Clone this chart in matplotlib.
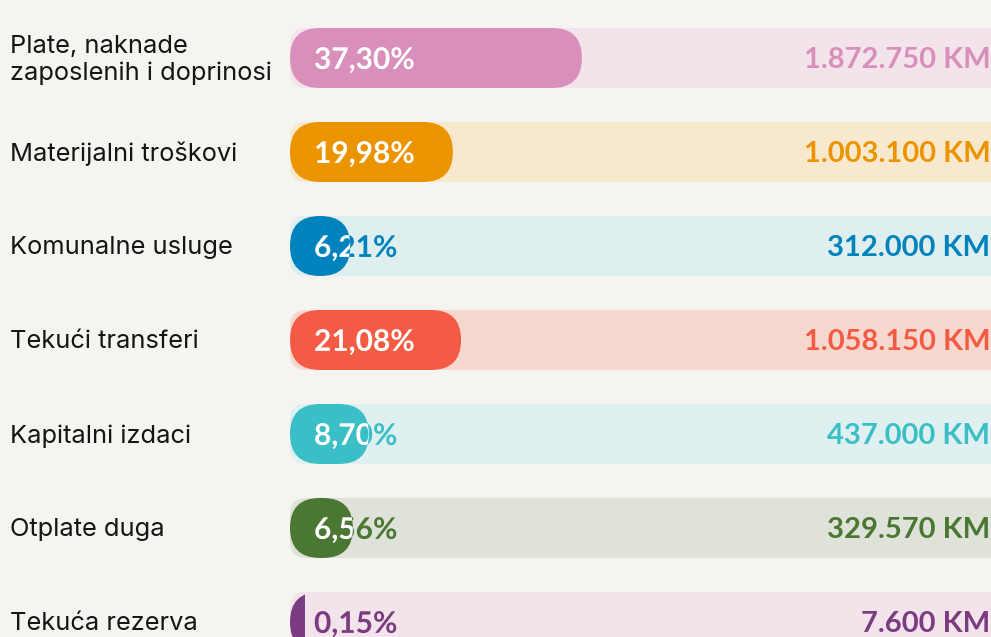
import matplotlib
matplotlib.use("Agg")
import matplotlib.pyplot as plt
import matplotlib.transforms as mtransforms
from matplotlib.patches import FancyBboxPatch, Rectangle, PathPatch
from matplotlib.textpath import TextPath
from matplotlib.font_manager import FontProperties

# ── data ──
categories = [
    "Plate, naknade\nzaposlenih i doprinosi",
    "Materijalni troškovi",
    "Komunalne usluge",
    "Tekući transferi",
    "Kapitalni izdaci",
    "Otplate duga",
    "Tekuća rezerva",
]
shares = [37.30, 19.98, 6.21, 21.08, 8.70, 6.56, 0.15]
amounts = [1872750, 1003100, 312000, 1058150, 437000, 329570, 7600]

bar_colors = ["#d98fbb", "#ec9400", "#0083bd", "#f35b44", "#3bbfc6", "#4a7732", "#7b3b80"]
track_colors = ["#f3e3ea", "#f8e8cd", "#dfeeef", "#f6d8cf", "#dff0f0", "#dfe2d8", "#f3e3ea"]
BG = "#f5f4f0"


def fmt_pct(v):
    return f"{v:.2f}%".replace(".", ",")


def fmt_km(v):
    return f"{v:,} KM".replace(",", ".")


W, H, DPI = 991, 637, 100
fig = plt.figure(figsize=(W / DPI, H / DPI), dpi=DPI, facecolor=BG)
ax = fig.add_axes([290 / W, 0, 1 - 290 / W, 1])
ax.set_facecolor(BG)
ax.axis("off")

PAD = 1.88          # bar starts a little left of 0 %
XMAX = 92.2
ax.set_xlim(-PAD, XMAX)
ax.set_ylim(6.16, -0.617)

px_x = (XMAX + PAD) / (W - 290)     # data units per pixel (x)
px_y = (6.16 + 0.617) / H           # data units per pixel (y)
bar_h = 60 * px_y
radius = 30 * px_x
aspect = px_y / px_x

label_font = ["Inter", "DejaVu Sans"]
num_font = ["Lato", "DejaVu Sans"]
NUM_SIZE = 21.5
num_prop = FontProperties(family="Lato", weight="bold", size=NUM_SIZE)
cap_h = TextPath((0, 0), "0", size=NUM_SIZE, prop=num_prop).get_extents().y1

ylab = mtransforms.blended_transform_factory(fig.transFigure, ax.transData)
yval = mtransforms.blended_transform_factory(ax.transAxes, ax.transData)

for i, (cat, p, amt) in enumerate(zip(categories, shares, amounts)):
    c, tc = bar_colors[i], track_colors[i]

    # background track
    track = FancyBboxPatch((-PAD, i - bar_h / 2), 120, bar_h,
                           boxstyle=f"round,pad=0,rounding_size={16 * px_x}",
                           mutation_aspect=aspect, fc=tc, ec="none", zorder=1)
    ax.add_patch(track)

    # foreground bar (pill, clipped to its real length)
    length = p + PAD
    bar = FancyBboxPatch((-PAD, i - bar_h / 2), max(length, 2 * radius), bar_h,
                         boxstyle=f"round,pad=0,rounding_size={radius}",
                         mutation_aspect=aspect, fc=c, ec="none", zorder=2)
    ax.add_patch(bar)
    clip = Rectangle((-PAD, i - bar_h), length, 2 * bar_h, transform=ax.transData)
    bar.set_clip_path(clip)

    # percentage: coloured copy, then white copy clipped to the bar
    tp = TextPath((24 * 72 / DPI, -cap_h / 2), fmt_pct(p), size=NUM_SIZE, prop=num_prop)
    tr = (mtransforms.Affine2D().scale(1 / 72) + fig.dpi_scale_trans
          + mtransforms.ScaledTranslation(-PAD, i, ax.transData))
    for col, z in ((c, 3), ("white", 4)):
        pp = PathPatch(tp, fc=col, ec="none", transform=tr, zorder=z)
        ax.add_patch(pp)
        if col == "white":
            pp.set_clip_path(bar if length >= 2 * radius else clip)

    # amount on the right
    ax.text(0.999, i, fmt_km(amt), transform=yval, ha="right", va="center_baseline",
            fontsize=NUM_SIZE - 0.5, fontweight="bold", family=num_font, color=c, zorder=3)

    # category label
    fig.text(10 / W, i + 2 * px_y, cat, transform=ylab, ha="left", va="center",
             fontsize=18.3, family=label_font, color="#151515", linespacing=1.2)

fig.savefig("out.png", dpi=DPI, facecolor=BG)
